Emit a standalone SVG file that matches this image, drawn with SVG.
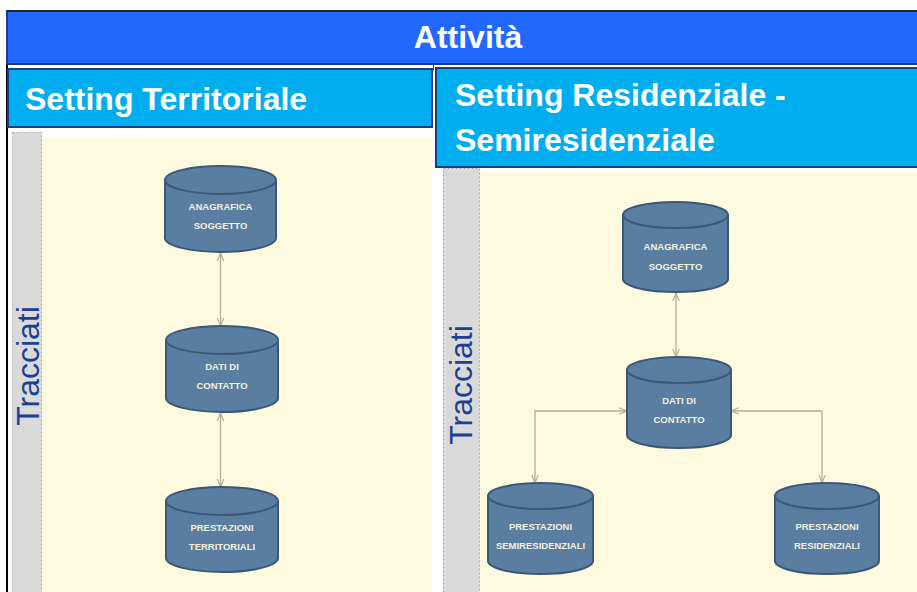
<svg xmlns="http://www.w3.org/2000/svg" width="917" height="592" viewBox="0 0 917 592">
<defs>
<style>
.title{font-family:"Liberation Sans",Arial,sans-serif;font-weight:bold;fill:#ffffff}
.trac{font-family:"Liberation Sans",Arial,sans-serif;font-size:32px;fill:#1c3f94}
.cyl{fill:#5a7ea2;stroke:#3b5877;stroke-width:2}
.cyltop{fill:none;stroke:#3b5877;stroke-width:2}
.lbl{font-family:"Liberation Sans",Arial,sans-serif;font-weight:bold;font-size:9.5px;fill:#f3f0dc;text-anchor:middle}
.conn{fill:none;stroke:#b3b099;stroke-width:1.3}
.strip{fill:#d9d9d9;stroke:#a6a6a6;stroke-width:1;stroke-dasharray:2 2}
</style>
<marker id="arr" viewBox="0 0 10 10" refX="10" refY="5" markerWidth="8" markerHeight="8" orient="auto-start-reverse" markerUnits="userSpaceOnUse">
<path d="M0,1 L10,5 L0,9" fill="none" stroke="#b3b099" stroke-width="1.5"/>
</marker>
</defs>
<rect width="917" height="592" fill="#ffffff"/>

<g id="frame">
<line x1="7" y1="10" x2="7" y2="592" stroke="#000" stroke-width="2"/>
<line x1="433.5" y1="63" x2="433.5" y2="70" stroke="#333" stroke-width="1"/>
</g>

<g id="title">
<rect x="7" y="11" width="912" height="53" fill="#2268ff" stroke="#1b3c86" stroke-width="2"/>
<line x1="7" y1="11" x2="917" y2="11" stroke="#222" stroke-width="1.5"/>
<text class="title" x="468" y="48" font-size="32" text-anchor="middle">Attività</text>
</g>

<g id="header-territoriale">
<rect x="8" y="69" width="424" height="58" fill="#00adef" stroke="#1b3c86" stroke-width="2"/>
<text class="title" x="25" y="110" font-size="32">Setting Territoriale</text>
</g>

<g id="header-residenziale">
<rect x="436" y="68" width="484" height="99" fill="#00adef" stroke="#1b3c86" stroke-width="2"/>
<text class="title" x="455" y="106" font-size="32">Setting Residenziale -</text>
<text class="title" x="455" y="151" font-size="32">Semiresidenziale</text>
</g>

<g id="area-left">
<rect x="42" y="138" width="390" height="460" fill="#fefadf"/>
<rect class="strip" x="12.5" y="132.5" width="29" height="470"/>
<text class="trac" transform="translate(39,366) rotate(-90)" text-anchor="middle">Tracciati</text>
</g>

<g id="area-right">
<rect x="480" y="172" width="440" height="430" fill="#fefadf"/>
<rect class="strip" x="443.5" y="168.5" width="36" height="430"/>
<text class="trac" transform="translate(472,385) rotate(-90)" text-anchor="middle">Tracciati</text>
</g>

<g id="connectors">
<line class="conn" x1="220.5" y1="253" x2="220.5" y2="326" marker-start="url(#arr)" marker-end="url(#arr)"/>
<line class="conn" x1="220.5" y1="413" x2="220.5" y2="487" marker-start="url(#arr)" marker-end="url(#arr)"/>
<line class="conn" x1="676" y1="293" x2="676" y2="357" marker-start="url(#arr)" marker-end="url(#arr)"/>
<polyline class="conn" points="627,411 535,411 535,483" marker-start="url(#arr)" marker-end="url(#arr)"/>
<polyline class="conn" points="731,411 822,411 822,483" marker-start="url(#arr)" marker-end="url(#arr)"/>
</g>

<g id="anagrafica-territoriale">
<path class="cyl" d="M165,180 A55.5,14 0 0 1 276,180 V238 A55.5,14 0 0 1 165,238 Z"/>
<path class="cyltop" d="M165,180 A55.5,14 0 0 0 276,180"/>
<text class="lbl" x="220.5" y="210">ANAGRAFICA</text>
<text class="lbl" x="220.5" y="229">SOGGETTO</text>
</g>

<g id="dati-territoriale">
<path class="cyl" d="M166,340 A56,14 0 0 1 278,340 V398 A56,14 0 0 1 166,398 Z"/>
<path class="cyltop" d="M166,340 A56,14 0 0 0 278,340"/>
<text class="lbl" x="222" y="370">DATI DI</text>
<text class="lbl" x="222" y="389">CONTATTO</text>
</g>

<g id="prestazioni-territoriali">
<path class="cyl" d="M166,501 A56,14 0 0 1 278,501 V558 A56,14 0 0 1 166,558 Z"/>
<path class="cyltop" d="M166,501 A56,14 0 0 0 278,501"/>
<text class="lbl" x="222" y="531">PRESTAZIONI</text>
<text class="lbl" x="222" y="550">TERRITORIALI</text>
</g>

<g id="anagrafica-residenziale">
<path class="cyl" d="M623,215 A52.5,13 0 0 1 728,215 V279 A52.5,13 0 0 1 623,279 Z"/>
<path class="cyltop" d="M623,215 A52.5,13 0 0 0 728,215"/>
<text class="lbl" x="675.5" y="250">ANAGRAFICA</text>
<text class="lbl" x="675.5" y="270">SOGGETTO</text>
</g>

<g id="dati-residenziale">
<path class="cyl" d="M627,370 A52,13 0 0 1 731,370 V435 A52,13 0 0 1 627,435 Z"/>
<path class="cyltop" d="M627,370 A52,13 0 0 0 731,370"/>
<text class="lbl" x="679" y="404">DATI DI</text>
<text class="lbl" x="679" y="423">CONTATTO</text>
</g>

<g id="prestazioni-semiresidenziali">
<path class="cyl" d="M488,496 A52.5,13 0 0 1 593,496 V561 A52.5,13 0 0 1 488,561 Z"/>
<path class="cyltop" d="M488,496 A52.5,13 0 0 0 593,496"/>
<text class="lbl" x="540.5" y="530">PRESTAZIONI</text>
<text class="lbl" x="540.5" y="549">SEMIRESIDENZIALI</text>
</g>

<g id="prestazioni-residenziali">
<path class="cyl" d="M775,496 A52,13 0 0 1 879,496 V561 A52,13 0 0 1 775,561 Z"/>
<path class="cyltop" d="M775,496 A52,13 0 0 0 879,496"/>
<text class="lbl" x="827" y="530">PRESTAZIONI</text>
<text class="lbl" x="827" y="549">RESIDENZIALI</text>
</g>
</svg>
